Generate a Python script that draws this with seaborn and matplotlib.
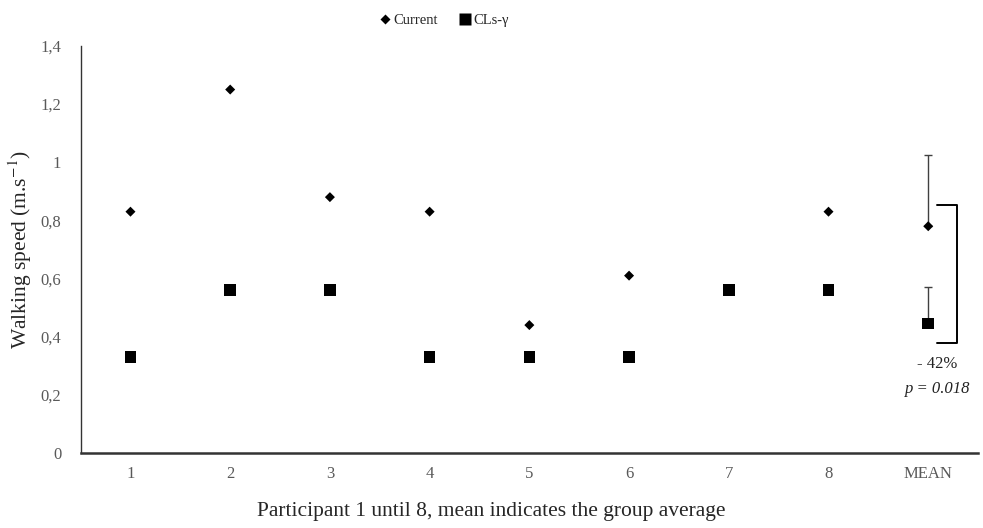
import pandas as pd
import numpy as np
import matplotlib.pyplot as plt
import seaborn as sns

# valores
categorias = ["1", "2", "3", "4", "5", "6", "7", "8", "MEAN"]
current = [0.83, 1.25, 0.88, 0.83, 0.44, 0.61, 0.56, 0.83, 0.78]
cls_gamma = [0.33, 0.56, 0.56, 0.33, 0.33, 0.33, 0.56, 0.56, 0.445]
sd_current = 0.245
sd_cls = 0.126
bracket_top = 0.853
bracket_bottom = 0.378

df = pd.DataFrame({
    "Participante": categorias * 2,
    "Velocidad": current + cls_gamma,
    "Serie": ["Current"] * len(categorias) + ["CLs-\u03b3"] * len(categorias),
})

sns.set_style("white")
serif = ["Liberation Serif", "DejaVu Serif"]
plt.rcParams["font.family"] = serif
plt.rcParams["mathtext.fontset"] = "stix"

fig, ax = plt.subplots(figsize=(9.83, 5.28), dpi=100)
fig.subplots_adjust(left=0.082, right=0.995, top=0.913, bottom=0.142)

sns.scatterplot(data=df, x="Participante", y="Velocidad", hue="Serie", style="Serie",
                markers={"Current": "D", "CLs-\u03b3": "s"},
                palette={"Current": "black", "CLs-\u03b3": "black"},
                size="Serie", sizes={"Current": 26, "CLs-\u03b3": 70},
                edgecolor="none", ax=ax, zorder=3)

# barras de error (solo hacia arriba) en la media
m = categorias.index("MEAN")
ax.errorbar([m], [current[m]], yerr=[[0], [sd_current]], fmt="none",
            ecolor="#404040", elinewidth=1, capsize=3, zorder=2)
ax.errorbar([m], [cls_gamma[m]], yerr=[[0], [sd_cls]], fmt="none",
            ecolor="#404040", elinewidth=1, capsize=3, zorder=2)

# corchete de significancia
bx0, bx1 = m + 0.09, m + 0.29
ax.plot([bx0, bx1, bx1, bx0], [bracket_top, bracket_top, bracket_bottom, bracket_bottom],
        color="black", lw=1.4, zorder=2)
ax.text(m + 0.09, 0.305, "- 42%", ha="center", va="center", fontsize=12,
        color="#222222", family=serif)
ax.text(m + 0.1, 0.22, "p = 0.018", ha="center", va="center", fontsize=12,
        style="italic", color="#222222", family=serif)

ax.set_xlim(-0.5, 8.5)
ax.set_ylim(0, 1.4)
ax.set_yticks(np.arange(0, 1.41, 0.2))
ax.set_yticklabels(["0", "0,2", "0,4", "0,6", "0,8", "1", "1,2", "1,4"], family=serif)
ax.set_xticks(range(len(categorias)))
ax.set_xticklabels(categorias, family=serif)
ax.tick_params(axis="both", length=0, labelsize=12, labelcolor="#595959")
ax.tick_params(axis="y", pad=14)
ax.tick_params(axis="x", pad=9)

for s in ["top", "right"]:
    ax.spines[s].set_visible(False)
ax.spines["left"].set_color("#333333")
ax.spines["left"].set_linewidth(1.0)
ax.spines["bottom"].set_color("#333333")
ax.spines["bottom"].set_linewidth(1.8)

ax.set_xlabel("Participant 1 until 8, mean indicates the group average", fontsize=15.5,
              family=serif)
ax.xaxis.set_label_coords(0.457, -0.12)
ax.set_ylabel("Walking speed (m.s$^{-1}$)", fontsize=15.5, family=serif)
ax.yaxis.set_label_coords(-0.052, 0.5)

handles, labels = ax.get_legend_handles_labels()
ax.legend(handles[-2:], labels[-2:], loc="upper center", bbox_to_anchor=(0.40, 1.11),
          ncol=2, frameon=False, prop={"family": serif, "size": 10.5},
          handletextpad=-0.45, columnspacing=0.9)

fig.savefig("out.png", dpi=100)
